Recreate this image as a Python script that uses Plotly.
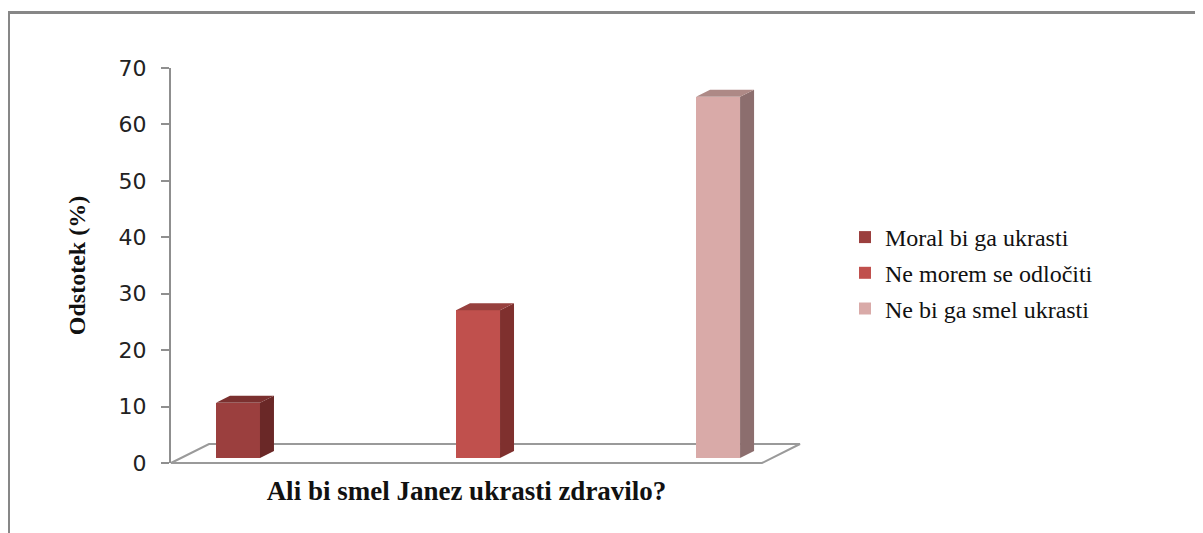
import plotly.graph_objects as go

# ---- data ----
series_names = ["Moral bi ga ukrasti", "Ne morem se odločiti", "Ne bi ga smel ukrasti"]
series_values = [9.8, 26.2, 64.0]
y_ticks = [0, 10, 20, 30, 40, 50, 60, 70]
x_title = "Ali bi smel Janez ukrasti zdravilo?"
y_title = "Odstotek (%)"

# ---- styles ----
front_colors = ["#9B3F3E", "#C0504D", "#D9AAA8"]
side_colors = ["#6A2827", "#7F302E", "#8C6E6E"]
top_colors = ["#7B302F", "#97403E", "#AE8986"]

PAGE_OFF = 8               # default body margin of the html page
W, H = 1203 - PAGE_OFF, 533 - PAGE_OFF
ML, MR, MT, MB = 171 - PAGE_OFF, 441, 68 - PAGE_OFF, 70
PLOT_W = W - ML - MR
PLOT_H = H - MT - MB
X_RANGE = [-0.279, 2.183]
Y_RANGE = [0, 70]
PX_X = PLOT_W / (X_RANGE[1] - X_RANGE[0])
PX_Y = PLOT_H / (Y_RANGE[1] - Y_RANGE[0])

BAR_W = 44 / PX_X          # bar width in axis units
LIFT = 5 / PX_Y            # bars stand slightly above the floor front edge
DX = 14 / PX_X             # bar depth, horizontal
DY = 7 / PX_Y              # bar depth, vertical
FLOOR_DX = 38 / PLOT_W     # floor depth in paper units
FLOOR_DY = 19 / PLOT_H
GRID_GRAY = "#8F8F8F"
SERIF = "Liberation Serif, Times New Roman, serif"

fig = go.Figure()
shapes = []
for i, (name, v) in enumerate(zip(series_names, series_values)):
    fig.add_trace(go.Bar(
        x=[i], y=[v], base=[LIFT], name=name, width=BAR_W,
        marker=dict(color=front_colors[i], line=dict(width=0)),
        legendgroup=name, hoverinfo="name+y",
    ))
    xl, xr = i - BAR_W / 2, i + BAR_W / 2
    top = LIFT + v
    # side face
    shapes.append(dict(
        type="path", xref="x", yref="y", layer="above",
        path=f"M {xr},{LIFT} L {xr},{top} L {xr+DX},{top+DY} L {xr+DX},{LIFT+DY} Z",
        fillcolor=side_colors[i], line=dict(width=0),
    ))
    # top face
    shapes.append(dict(
        type="path", xref="x", yref="y", layer="above",
        path=f"M {xl},{top} L {xr},{top} L {xr+DX},{top+DY} L {xl+DX},{top+DY} Z",
        fillcolor=top_colors[i], line=dict(width=0),
    ))

# floor (3D base plane)
shapes.insert(0, dict(
    type="path", xref="paper", yref="paper", layer="below",
    path=(f"M 0,0 L {FLOOR_DX},{FLOOR_DY} L {1+FLOOR_DX},{FLOOR_DY} "
          f"L 1,0 Z"),
    line=dict(color="#9A9A9A", width=2), fillcolor="rgba(0,0,0,0)",
))
# outer chart frame
shapes.append(dict(
    type="rect", xref="paper", yref="paper", layer="below",
    x0=(0.5 - ML) / PLOT_W, x1=(W + 20 - ML) / PLOT_W,
    y0=-(MB + 20) / PLOT_H, y1=(PLOT_H + MT - 4.5) / PLOT_H,
    line=dict(color="#878787", width=3), fillcolor="rgba(0,0,0,0)",
))

fig.update_layout(
    width=W, height=H,
    margin=dict(l=ML, r=MR, t=MT, b=MB),
    paper_bgcolor="white", plot_bgcolor="white",
    shapes=shapes,
    showlegend=True,
    legend=dict(
        x=(837 - ML) / PLOT_W, y=(MT + PLOT_H - 207) / PLOT_H,
        xanchor="left", yanchor="top",
        font=dict(family=SERIF, size=24, color="#111"),
        traceorder="grouped", tracegroupgap=1.5,
        bgcolor="rgba(0,0,0,0)",
    ),
    xaxis=dict(
        range=X_RANGE, showticklabels=False, ticks="", showgrid=False,
        zeroline=False, showline=False, fixedrange=True,
        title=dict(text=f"<b>{x_title}</b>", standoff=18,
                   font=dict(family=SERIF, size=27, color="#111")),
    ),
    yaxis=dict(
        range=Y_RANGE, tickvals=y_ticks, ticktext=[str(t) for t in y_ticks],
        showgrid=False, zeroline=False,
        showline=True, linecolor=GRID_GRAY, linewidth=2,
        ticks="outside", ticklen=8, tickwidth=2, tickcolor=GRID_GRAY,
        ticklabelstandoff=10,
        tickfont=dict(family="DejaVu Sans, sans-serif", size=22, color="#222"),
        title=dict(text=f"<b>{y_title}</b>", standoff=26,
                   font=dict(family=SERIF, size=24, color="#111")),
    ),
    bargap=0,
)

fig.write_html("out.html")
